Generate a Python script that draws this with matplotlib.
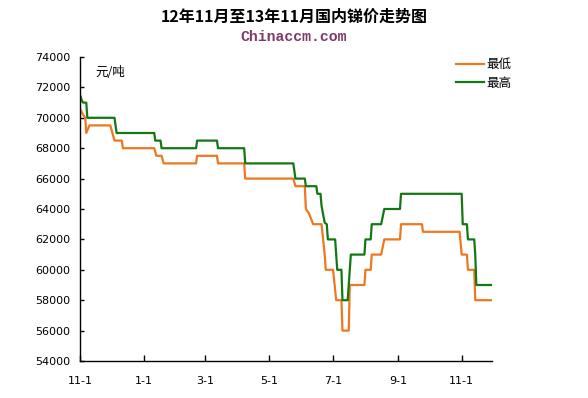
import matplotlib
matplotlib.use("Agg")
import matplotlib.pyplot as plt
import pandas as pd

plt.rcParams['font.family'] = ['Noto Sans CJK SC', 'DejaVu Sans']

start = pd.Timestamp("2012-11-01")

# Day offsets (from 2012-11-01) and prices, yuan/ton
low_days = [0, 3, 5, 6, 9, 29, 31, 33, 40, 41, 71, 73, 78, 80, 111, 112, 131, 132,
            157, 158, 204, 206, 215, 216, 219, 223, 231, 234, 235, 242, 245, 250,
            251, 257, 258, 272, 273, 278, 279, 288, 291, 306, 307, 327, 328, 363,
            365, 370, 371, 377, 378, 393]
low_vals = [70600, 70200, 70000, 69000, 69500, 69500, 69000, 68500, 68500, 68000,
            68000, 67500, 67500, 67000, 67000, 67500, 67500, 67000, 67000, 66000,
            66000, 65500, 65500, 64000, 63700, 63000, 63000, 61000, 60000, 60000,
            58000, 58000, 56000, 56000, 59000, 59000, 60000, 60000, 61000, 61000,
            62000, 62000, 63000, 63000, 62500, 62500, 61000, 61000, 60000, 60000,
            58000, 58000]

high_days = [0, 2, 3, 6, 7, 33, 35, 71, 72, 77, 78, 111, 112, 131, 132, 157, 158,
             204, 206, 215, 216, 226, 227, 230, 231, 234, 236, 237, 244, 246, 250,
             251, 256, 259, 272, 273, 278, 279, 288, 291, 306, 307, 365, 366, 370,
             371, 377, 378, 379, 393]
high_vals = [71500, 71100, 71000, 71000, 70000, 70000, 69000, 69000, 68500, 68500,
             68000, 68000, 68500, 68500, 68000, 68000, 67000, 67000, 66000, 66000,
             65500, 65500, 65000, 65000, 64200, 63100, 63000, 62000, 62000, 60000,
             60000, 58000, 58000, 61000, 61000, 62000, 62000, 63000, 63000, 64000,
             64000, 65000, 65000, 63000, 63000, 62000, 62000, 61000, 59000, 59000]

tick_dates = ["2012-11-01", "2013-01-01", "2013-03-01", "2013-05-01",
              "2013-07-01", "2013-09-01", "2013-11-01"]
tick_labels = ["11-1", "1-1", "3-1", "5-1", "7-1", "9-1", "11-1"]
y_ticks = [54000, 56000, 58000, 60000, 62000, 64000, 66000, 68000, 70000, 72000, 74000]

low_x = [start + pd.Timedelta(days=d) for d in low_days]
high_x = [start + pd.Timedelta(days=d) for d in high_days]

fig = plt.figure(figsize=(5.88, 3.98), dpi=100)
ax = fig.add_axes([80/588, 1 - 361/398, 412/588, 304/398])

orange = '#EE7722'
green = '#137713'
ax.plot(low_x, low_vals, color=orange, lw=1.6, label='最低')
ax.plot(high_x, high_vals, color=green, lw=1.6, label='最高')

ax.set_xlim(start, start + pd.Timedelta(days=394))
ax.set_ylim(54000, 74000)
ax.set_yticks(y_ticks)
ax.set_yticklabels([str(v) for v in y_ticks])
ax.set_xticks(pd.to_datetime(tick_dates))
ax.set_xticklabels(tick_labels)

for s in ['top', 'right']:
    ax.spines[s].set_visible(False)
for s in ['left', 'bottom']:
    ax.spines[s].set_linewidth(1.0)
    ax.spines[s].set_color('black')
ax.tick_params(axis='y', direction='in', length=3, width=1, pad=7, labelsize=8)
ax.tick_params(axis='x', direction='in', length=4, width=1, pad=11, labelsize=8)
for lab in ax.get_xticklabels() + ax.get_yticklabels():
    lab.set_family(['DejaVu Sans'])

ax.text(15/412, (361-73)/304, '元/吨', transform=ax.transAxes, fontsize=9, va='center')

leg = ax.legend(loc='upper left', bbox_to_anchor=(373/412, 1.005), frameon=False,
                fontsize=9, handlelength=2.3, handletextpad=0.15, labelspacing=0.45,
                borderaxespad=0.0, borderpad=0.2)

fig.text(0.5, 1 - 17/398, '12年11月至13年11月国内锑价走势图', ha='center', va='center',
         fontsize=11.5, fontweight='bold')
fig.text(0.5, 1 - 37/398, 'Chinaccm.com', ha='center', va='center', fontsize=10.7,
         fontweight='bold', color='#7E3A6A', family=['Liberation Mono'])

fig.savefig('out.png', dpi=100)
